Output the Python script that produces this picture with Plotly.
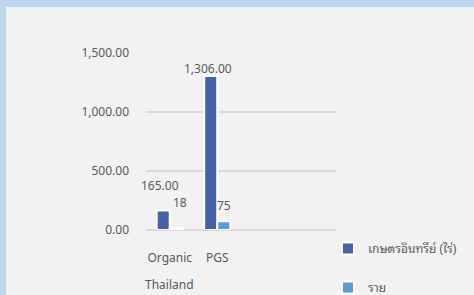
import plotly.graph_objects as go

categories = ["Organic", "PGS"]
series_names = ["เกษตรอินทรีย์ (ไร่)", "ราย"]
area_values = [165.00, 1306.00]
member_values = [18, 75]
y_ticks = [0, 500, 1000, 1500]
y_tick_labels = ["0.00", "500.00", "1,000.00", "1,500.00"]
group_label = "Thailand"

DARK = "#4763A8"
LIGHT = "#5B9BD5"
TXT = "#595959"
FONT = "Noto Sans, Noto Sans Thai Looped, Loma, Garuda, Noto Sans Thai, DejaVu Sans, sans-serif"

fig = go.Figure()
fig.add_trace(go.Bar(x=categories, y=area_values, name=series_names[0],
                     marker=dict(color=DARK, line=dict(color="white", width=2)),
                     legendgroup="a"))
fig.add_trace(go.Bar(x=categories, y=member_values, name=series_names[1],
                     marker=dict(color=LIGHT, line=dict(color="white", width=2)),
                     legendgroup="b"))

# data labels (positioned like the original, offsets are styling)
label_specs = [
    (0, area_values, "{:,.2f}", -10, 25),
    (1, area_values, "{:,.2f}", -9, 7),
    (0, member_values, "{:,.0f}", 10, 25),
    (1, member_values, "{:,.0f}", 7, 16),
]
for idx, vals, fmt, xs, ys in label_specs:
    fig.add_annotation(x=categories[idx], y=vals[idx], text=fmt.format(vals[idx]),
                       showarrow=False, xshift=xs, yshift=ys, yanchor="middle",
                       font=dict(size=12, color=TXT, family=FONT))

fig.add_annotation(x=categories[0], y=0, text=group_label, showarrow=False,
                   yshift=-54, yanchor="middle",
                   font=dict(size=12, color=TXT, family=FONT))

# outer light blue frame (top and left bands)
W, H = 474, 295
L, R, T, B = 146, 336, 53, 230
def px(X): return (X - L) / (R - L)
def py(Y): return (B - Y) / (B - T)
fig.add_shape(type="rect", xref="paper", yref="paper", x0=px(0), x1=px(W), y0=py(7), y1=py(0),
              fillcolor="#BDD7EE", line_width=0, layer="below")
fig.add_shape(type="rect", xref="paper", yref="paper", x0=px(0), x1=px(6), y0=py(H), y1=py(0),
              fillcolor="#BDD7EE", line_width=0, layer="below")

fig.update_layout(
    width=W, height=H,
    margin=dict(l=L, r=W - R, t=T, b=H - B, autoexpand=False),
    paper_bgcolor="#F2F2F2", plot_bgcolor="#F2F2F2",
    barmode="group", bargap=0.45, bargroupgap=0,
    font=dict(family=FONT, size=12, color=TXT),
    showlegend=True,
    legend=dict(xref="container", yref="container",
                x=328 / W, xanchor="left", y=1 - 234 / H, yanchor="top",
                bgcolor="rgba(0,0,0,0)", tracegroupgap=20,
                font=dict(size=12, color=TXT, family=FONT),
                itemwidth=30),
)
fig.update_xaxes(type="category", range=[-0.5, 3.5], showgrid=False, zeroline=False,
                 showline=False, ticks="", ticklabelstandoff=19,
                 tickfont=dict(size=12, color=TXT, family=FONT))
fig.update_yaxes(range=[0, 1500], tickvals=y_ticks, ticktext=y_tick_labels,
                 showgrid=True, gridcolor="#D9D9D9", gridwidth=1.5,
                 zeroline=True, zerolinecolor="#D9D9D9", zerolinewidth=1.5,
                 showline=False, ticks="", ticklabelstandoff=16,
                 tickfont=dict(size=12, color=TXT, family=FONT))

fig.write_html("out.html", config={"displayModeBar": False},
               post_script="document.body.style.margin='0px';")
